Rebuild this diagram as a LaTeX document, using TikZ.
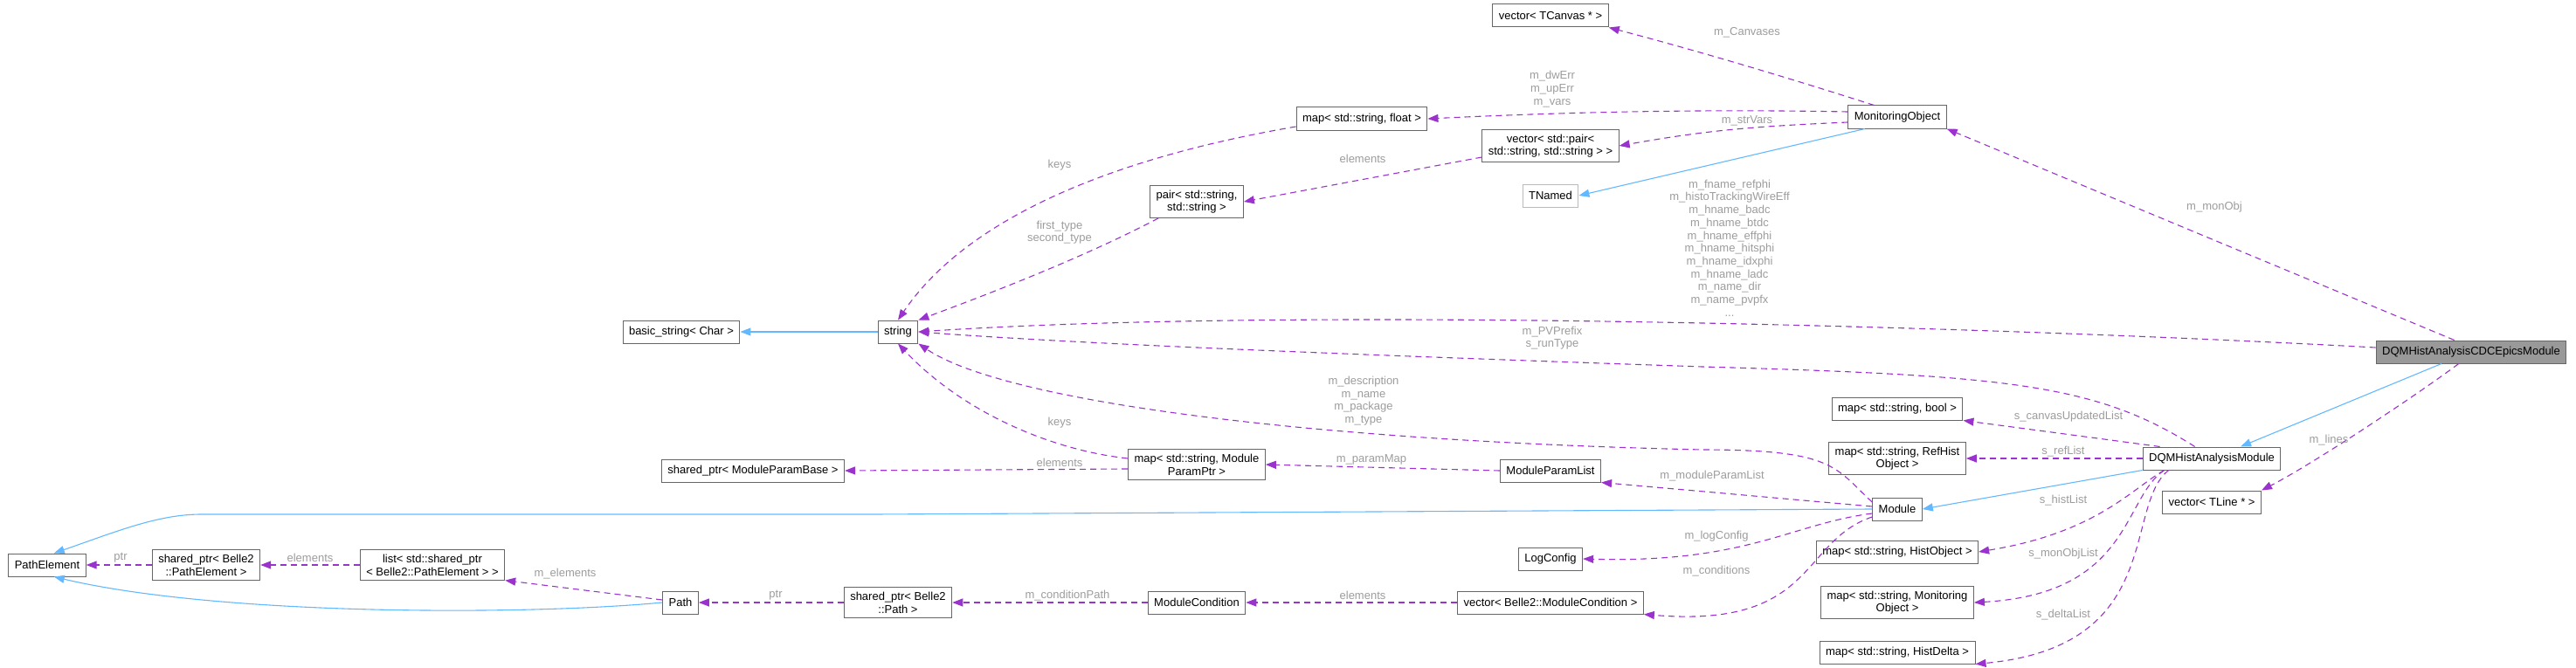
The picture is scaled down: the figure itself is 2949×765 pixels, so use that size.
\documentclass[tikz,border=0pt]{standalone}
\usepackage{fontspec}
\setmainfont{Liberation Sans}
\usetikzlibrary{arrows.meta}

\definecolor{edgepurple}{HTML}{9A32CD}
\definecolor{edgeblue}{HTML}{63B8FF}
\definecolor{lblgray}{HTML}{9C9C9C}
\definecolor{boxgray}{HTML}{666666}

\tikzset{
  every node/.style={font=\fontsize{13}{14.7}\selectfont},
  cls/.style={draw=boxgray, line width=1pt, fill=white, inner xsep=7pt, inner ysep=5pt, minimum height=26pt, align=center},
  clsgray/.style={cls, draw=lblgray!70},
  clsme/.style={cls, fill=black!40},
  usage/.style={draw=edgepurple, line width=1.1pt, dash pattern=on 7pt off 5pt, -{Triangle[length=12pt,width=9pt]}},
  inherit/.style={draw=edgeblue, line width=1.1pt, -{Triangle[length=12pt,width=9pt]}},
  lbl/.style={text=lblgray, align=center, inner sep=0pt}
}

\begin{document}
\begin{tikzpicture}[x=1pt,y=-1pt]
  \useasboundingbox (0,0) rectangle (2949,765);

  % classes
  \node[clsme] (cdc) at (2829,403) {DQMHistAnalysisCDCEpicsModule};
  \node[cls] (dqm) at (2532,525) {DQMHistAnalysisModule};
  \node[cls] (tline) at (2532,575) {vector< TLine * >};
  \node[cls] (monobj) at (2172,134) {MonitoringObject};
  \node[cls] (mbool) at (2172,468) {map< std::string, bool >};
  \node[cls] (mref) at (2172,525) {map< std::string, RefHist\\Object >};
  \node[cls] (module) at (2172,583) {Module};
  \node[cls] (mhist) at (2172,632) {map< std::string, HistObject >};
  \node[cls] (mmon) at (2172,690) {map< std::string, Monitoring\\Object >};
  \node[cls] (mdelta) at (2172,747) {map< std::string, HistDelta >};
  \node[cls] (tcanvas) at (1775,18) {vector< TCanvas * >};
  \node[cls] (vpair) at (1775,167) {vector< std::pair<\\std::string, std::string > >};
  \node[clsgray] (tnamed) at (1775,224) {TNamed};
  \node[cls] (mparlist) at (1775,539) {ModuleParamList};
  \node[cls] (logcfg) at (1775,640) {LogConfig};
  \node[cls] (vcond) at (1775,690) {vector< Belle2::ModuleCondition >};
  \node[cls] (mfloat) at (1559,136) {map< std::string, float >};
  \node[cls] (pair) at (1370,231) {pair< std::string,\\std::string >};
  \node[cls] (mparptr) at (1370,532) {map< std::string, Module\\ParamPtr >};
  \node[cls] (mcond) at (1370,690) {ModuleCondition};
  \node[cls] (string) at (1028,380) {string};
  \node[cls] (sppath) at (1028,690) {shared\_ptr< Belle2\\::Path >};
  \node[cls] (spbase) at (862,539) {shared\_ptr< ModuleParamBase >};
  \node[cls] (bstring) at (780,380) {basic\_string< Char >};
  \node[cls] (path) at (779,690) {Path};
  \node[cls] (list) at (495,647) {list< std::shared\_ptr\\< Belle2::PathElement > >};
  \node[cls] (sppe) at (236,647) {shared\_ptr< Belle2\\::PathElement >};
  \node[cls] (pe) at (54,647) {PathElement};

  % inheritance
  \draw[inherit] (monobj.200) -- (tnamed.east);
  \draw[inherit] (string.west) -- (bstring.east);
  \draw[inherit] ([xshift=-34pt]cdc.south) -- ([xshift=33pt]dqm.north);
  \draw[inherit] (dqm.south west) -- (module.east);
  \coordinate (mh) at (230,589);
  \draw[inherit] (module.west) -- (1000,589) -- (mh) .. controls (180,589) and (130,610) .. (pe.60);
  \draw[inherit] (path.west) .. controls (600,705) and (250,705) .. (pe.-60);

  % members
  \draw[usage] (monobj.north west) ++(30,0) .. controls (2050,90) and (1950,60) .. (tcanvas.south east);
  \draw[usage] (monobj.west) ++(0,-6) .. controls (1950,125) and (1800,128) .. (mfloat.east);
  \draw[usage] (monobj.west) ++(0,6) .. controls (2000,145) and (1950,150) .. (vpair.east);
  \draw[usage] (vpair.west) ++(0,13) -- (pair.east);
  \draw[usage] (mfloat.west) ++(0,9) .. controls (1250,185) and (1100,260) .. (string.north);
  \draw[usage] (pair.south west) ++(10,0) .. controls (1250,290) and (1150,330) .. (string.north east);
  \draw[usage] (cdc.west) ++(0,-5) .. controls (2300,375) and (1500,350) .. (string.east);
  \draw[usage] (dqm.north west) ++(60,0) .. controls (2400,440) and (2300,430) .. (1949,420) .. controls (1600,408) and (1250,395) .. (string.east);
  \draw[usage] (module.west) ++(0,-8) .. controls (2100,535) and (2100,515) .. (1949,515) .. controls (1500,505) and (1150,460) .. (string.south east);
  \draw[usage] (mparptr.west) ++(0,-7) .. controls (1200,515) and (1100,470) .. (string.south);
  \draw[usage] (mparptr.west) ++(0,5) -- (spbase.east);
  \draw[usage] (mparlist.west) -- (mparptr.east);
  \draw[usage] (module.west) ++(0,-3) -- (mparlist.south east);
  \draw[usage] (module.west) ++(0,5) .. controls (2050,600) and (2000,645) .. (logcfg.east);
  \draw[usage] (module.west) ++(0,9) .. controls (2060,620) and (2080,720) .. (vcond.south east);
  \draw[usage] (vcond.west) -- (mcond.east);
  \draw[usage] (mcond.west) -- (sppath.east);
  \draw[usage] (sppath.west) -- (path.east);
  \draw[usage] (path.west) ++(0,-3) -- (list.south east);
  \draw[usage] (list.west) -- (sppe.east);
  \draw[usage] (sppe.west) -- (pe.east);
  \draw[usage] (cdc.north west) ++(90,0) -- (monobj.south east);
  \draw[usage] (cdc.south west) ++(95,0) .. controls (2770,450) and (2650,530) .. (tline.north east);
  \draw[usage] (dqm.north west) ++(20,0) -- (mbool.south east);
  \draw[usage] (dqm.west) -- (mref.east);
  \draw[usage] (dqm.south west) ++(25,0) .. controls (2440,560) and (2400,610) .. (mhist.east);
  \draw[usage] (dqm.south west) ++(25,0) .. controls (2430,570) and (2440,680) .. (mmon.east);
  \draw[usage] (dqm.south west) ++(30,0) .. controls (2430,580) and (2480,740) .. (mdelta.south east);

  % labels
  \node[lbl] (lcanv) at (2000,37) {m\_Canvases};
  \node[lbl] (lerr) at (1777,102) {m\_dwErr\\m\_upErr\\m\_vars};
  \node[lbl] (lstr) at (2000,138) {m\_strVars};
  \node[lbl] (lel1) at (1560,182) {elements};
  \node[lbl] (lkey1) at (1213,189) {keys};
  \node[lbl] (lfirst) at (1213,266) {first\_type\\second\_type};
  \node[lbl] (lfname) at (1980,284) {m\_fname\_refphi\\m\_histoTrackingWireEff\\m\_hname\_badc\\m\_hname\_btdc\\m\_hname\_effphi\\m\_hname\_hitsphi\\m\_hname\_idxphi\\m\_hname\_ladc\\m\_name\_dir\\m\_name\_pvpfx\\...};
  \node[lbl] (lpv) at (1777,387) {m\_PVPrefix\\s\_runType};
  \node[lbl] (ldesc) at (1561,459) {m\_description\\m\_name\\m\_package\\m\_type};
  \node[lbl] (lkey2) at (1213,484) {keys};
  \node[lbl] (lel2) at (1213,530) {elements};
  \node[lbl] (lpmap) at (1570,526) {m\_paramMap};
  \node[lbl] (lmpl) at (1960,545) {m\_moduleParamList};
  \node[lbl] (llog) at (1965,614) {m\_logConfig};
  \node[lbl] (lcondl) at (1965,654) {m\_conditions};
  \node[lbl] (lel3) at (1560,682) {elements};
  \node[lbl] (lcpath) at (1222,682) {m\_conditionPath};
  \node[lbl] (lptr1) at (888,682) {ptr};
  \node[lbl] (lmel) at (647,657) {m\_elements};
  \node[lbl] (lel4) at (355,639) {elements};
  \node[lbl] (lptr2) at (138,639) {ptr};
  \node[lbl] (lmon) at (2535,237) {m\_monObj};
  \node[lbl] (llines) at (2666,504) {m\_lines};
  \node[lbl] (lcanup) at (2368,477) {s\_canvasUpdatedList};
  \node[lbl] (lref) at (2362,517) {s\_refList};
  \node[lbl] (lhist) at (2362,573) {s\_histList};
  \node[lbl] (lmonl) at (2362,634) {s\_monObjList};
  \node[lbl] (ldelta) at (2362,704) {s\_deltaList};
\end{tikzpicture}
\end{document}
